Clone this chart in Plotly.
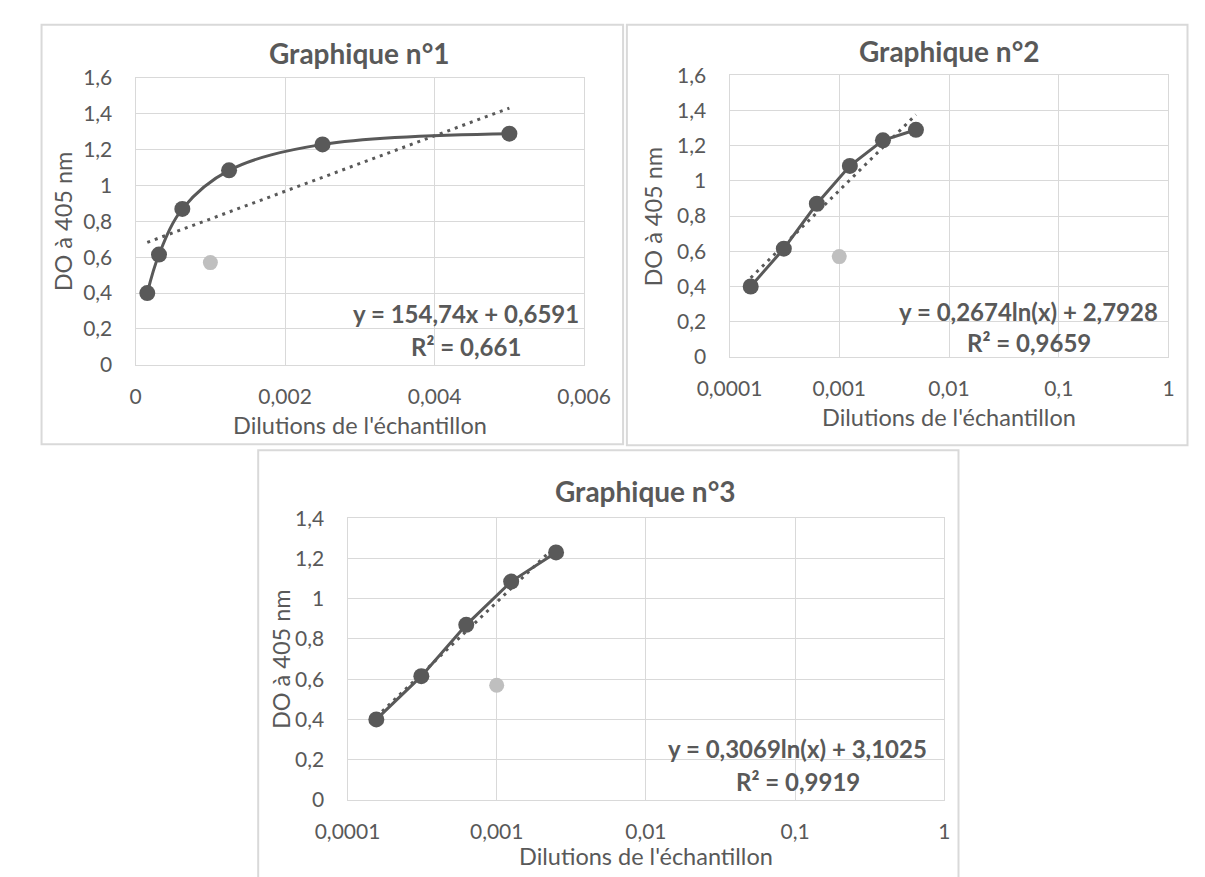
import math
import plotly.graph_objects as go

# ---- data -------------------------------------------------------------
dilutions = [0.000156, 0.0003125, 0.000625, 0.00125, 0.0025, 0.005]
do_405 = [0.40, 0.615, 0.87, 1.085, 1.23, 1.29]

# point set apart (light grey)
outlier_x = [0.001]
outlier_y = [0.57]

# trendline coefficients
lin_slope, lin_icpt, lin_r2 = 154.74, 0.6591, "0,661"
log2_a, log2_b, log2_r2 = 0.2674, 2.7928, "0,9659"
log3_a, log3_b, log3_r2 = 0.3069, 3.1025, "0,9919"

titles = ["Graphique n°1", "Graphique n°2", "Graphique n°3"]
x_title = "Dilutions de l'échantillon"
y_title = "DO à 405 nm"
log_tickvals = [0.0001, 0.001, 0.01, 0.1, 1]
log_ticktext = ["0,0001", "0,001", "0,01", "0,1", "1"]

# ---- styling ------------------------------------------------------------
W, H = 1205, 877
FONT = "Lato"
DARK = "#595959"
LIGHT = "#bfbfbf"
GRID = "#d9d9d9"
TXT = "#595959"


def px(x):
    return x / W


def py(y):
    return 1 - y / H


fig = go.Figure()

# plot-area rectangles in pixels: (left, top, right, bottom)
areas = {
    1: (108, 66, 580, 361),
    2: (733, 63, 1195, 353),
    3: (331, 519, 959, 809),
}


def add_series(n, xs, ys, shape, trend_x, trend_y):
    xa = "x" if n == 1 else f"x{n}"
    ya = "y" if n == 1 else f"y{n}"
    fig.add_trace(go.Scatter(
        x=trend_x, y=trend_y, mode="lines", xaxis=xa, yaxis=ya,
        line=dict(color=DARK, width=3, dash="3px,5px"), showlegend=False,
        hoverinfo="skip"))
    fig.add_trace(go.Scatter(
        x=xs, y=ys, mode="lines+markers", xaxis=xa, yaxis=ya,
        line=dict(color=DARK, width=3, shape=shape, smoothing=1.0),
        marker=dict(color=DARK, size=16), showlegend=False))
    fig.add_trace(go.Scatter(
        x=outlier_x, y=outlier_y, mode="markers", xaxis=xa, yaxis=ya,
        marker=dict(color=LIGHT, size=15), showlegend=False))


# chart 1: linear axis, linear trendline
t1x = [min(dilutions), max(dilutions)]
t1y = [lin_slope * v + lin_icpt for v in t1x]
add_series(1, dilutions, do_405, "spline", t1x, t1y)

# chart 2: log axis, logarithmic trendline
t2x = [min(dilutions), max(dilutions)]
t2y = [log2_a * math.log(v) + log2_b for v in t2x]
add_series(2, dilutions, do_405, "linear", t2x, t2y)

# chart 3: first five dilutions only
d3x, d3y = dilutions[:5], do_405[:5]
t3x = [min(d3x), max(d3x)]
t3y = [log3_a * math.log(v) + log3_b for v in t3x]
add_series(3, d3x, d3y, "linear", t3x, t3y)

axis_common = dict(
    showgrid=True, gridcolor=GRID, gridwidth=1.3,
    showline=True, linecolor=GRID, linewidth=1.3, mirror=True,
    zeroline=False, ticks="outside", ticklen=0,
    tickfont=dict(family=FONT, size=21, color=TXT),
)

layout = {}
for n, (l, t, r, b) in areas.items():
    sfx = "" if n == 1 else str(n)
    xd = [px(l), px(r)]
    yd = [py(b), py(t)]
    xax = dict(axis_common, domain=xd, anchor="y" + sfx, ticklabelstandoff=13)
    yax = dict(axis_common, domain=yd, anchor="x" + sfx, ticklabelstandoff=18)
    if n == 1:
        xax.update(range=[0, 0.006], dtick=0.002, tick0=0)
        yax.update(range=[0, 1.6], dtick=0.2)
    else:
        xax.update(type="log", range=[-4, 0], tickvals=log_tickvals,
                   ticktext=log_ticktext)
        yax.update(range=[0, 1.6 if n == 2 else 1.4], dtick=0.2)
    layout["xaxis" + sfx] = xax
    layout["yaxis" + sfx] = yax

fig.update_layout(**layout)

# chart frames
frames = [(9, 11, 621, 443), (625, 11, 1215, 444), (237, 449, 974, 900)]
shapes = []
for (l, t, r, b) in frames:
    shapes.append(dict(type="rect", xref="paper", yref="paper",
                       x0=px(l), x1=px(r), y0=py(b), y1=py(t),
                       line=dict(color=GRID, width=2), layer="below"))

ann = []


def text(x, y, s, size, bold=False, angle=0):
    ann.append(dict(
        x=px(x), y=py(y), xref="paper", yref="paper",
        text=f"<b>{s}</b>" if bold else s,
        showarrow=False, xanchor="center", yanchor="middle", textangle=angle,
        font=dict(family=FONT, size=size, color=TXT)))


# titles
text(344, 40, titles[0], 28, bold=True)
text(964, 38, titles[1], 28, bold=True)
text(645, 491, titles[2], 28, bold=True)

# axis titles
text(344, 423, x_title, 23.5)
text(964, 415, x_title, 23.5)
text(645, 867, x_title, 23.5)
text(32, 213, y_title, 23.5, angle=-90)
text(653, 208, y_title, 23.5, angle=-90)
text(261, 664, y_title, 23.5, angle=-90)

# trendline equations
text(456, 308, "y = 154,74x + 0,6591", 24, bold=True)
text(456, 342, f"R² = {lin_r2}", 24, bold=True)
text(1048, 306, "y = 0,2674ln(x) + 2,7928", 24, bold=True)
text(1048, 338, f"R² = {log2_r2}", 24, bold=True)
text(805, 756, "y = 0,3069ln(x) + 3,1025", 24, bold=True)
text(805, 790, f"R² = {log3_r2}", 24, bold=True)

fig.update_layout(
    width=W, height=H, margin=dict(l=0, r=0, t=0, b=0),
    paper_bgcolor="white", plot_bgcolor="white",
    separators=", ", shapes=shapes, annotations=ann, showlegend=False,
    font=dict(family=FONT, color=TXT),
)

fig.write_html("out.html")
